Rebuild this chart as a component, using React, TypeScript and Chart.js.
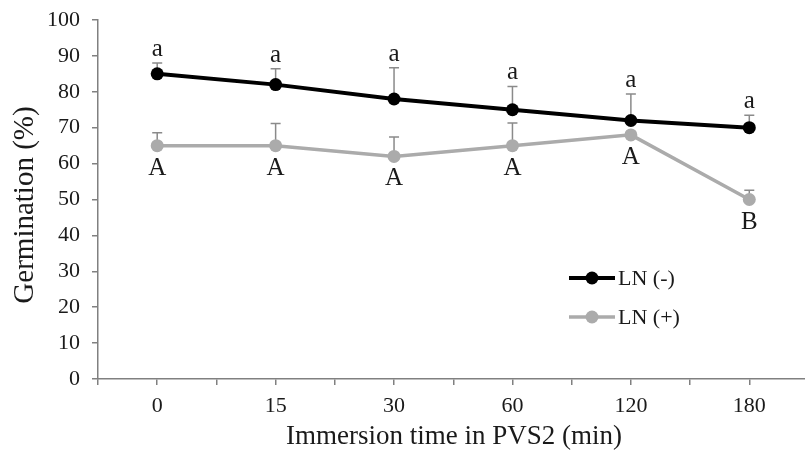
import React, { useEffect, useRef } from "react";
import { Chart, registerables } from "chart.js";

Chart.register(...registerables);

const categories = ["0", "15", "30", "60", "120", "180"];
const lnMinus = [85, 82, 78, 75, 72, 70];
const lnMinusErr = [3, 4.4, 8.7, 6.5, 7.4, 3.5];
const lnMinusLetters = ["a", "a", "a", "a", "a", "a"];
const lnPlus = [65, 65, 62, 65, 68, 50];
const lnPlusErr = [3.6, 6.2, 5.4, 6.3, 0, 2.6];
const lnPlusLetters = ["A", "A", "A", "A", "A", "B"];
const yTicks = [0, 10, 20, 30, 40, 50, 60, 70, 80, 90, 100];

const SERIF = '"Liberation Serif", "Times New Roman", serif';
const BLACK = "#000000";
const GRAY = "#ababab";
const ERR = "#8a8a8a";
const AXIS = "#808080";
const TEXT = "#1a1a1a";

const errorBarPlugin = {
  id: "errorBars",
  beforeDatasetsDraw(chart: any) {
    const { ctx, scales } = chart;
    const xs = scales.x;
    const ys = scales.y;
    const sets = [
      { v: lnMinus, e: lnMinusErr },
      { v: lnPlus, e: lnPlusErr },
    ];
    ctx.save();
    ctx.strokeStyle = ERR;
    ctx.lineWidth = 1.5;
    sets.forEach((s) => {
      s.v.forEach((v, i) => {
        if (!s.e[i]) return;
        const x = xs.getPixelForValue(i);
        const y0 = ys.getPixelForValue(v);
        const y1 = ys.getPixelForValue(v + s.e[i]);
        ctx.beginPath();
        ctx.moveTo(x, y0);
        ctx.lineTo(x, y1);
        ctx.moveTo(x - 5, y1);
        ctx.lineTo(x + 5, y1);
        ctx.stroke();
      });
    });
    ctx.restore();
  },
};

const annotationPlugin = {
  id: "annotations",
  afterDatasetsDraw(chart: any) {
    const { ctx, scales, chartArea } = chart;
    const xs = scales.x;
    const ys = scales.y;
    ctx.save();
    ctx.fillStyle = TEXT;
    ctx.textAlign = "center";
    ctx.font = `25px ${SERIF}`;
    ctx.textBaseline = "alphabetic";
    lnMinus.forEach((v, i) => {
      const x = xs.getPixelForValue(i);
      const y = ys.getPixelForValue(v + lnMinusErr[i]) - 7;
      ctx.fillText(lnMinusLetters[i], x, y);
    });
    ctx.textBaseline = "top";
    lnPlus.forEach((v, i) => {
      const x = xs.getPixelForValue(i);
      const y = ys.getPixelForValue(v) + 10;
      ctx.fillText(lnPlusLetters[i], x, y);
    });

    // legend
    const items = [
      { label: "LN (-)", color: BLACK, w: 4 },
      { label: "LN (+)", color: GRAY, w: 3.5 },
    ];
    ctx.font = `22px ${SERIF}`;
    ctx.textAlign = "left";
    ctx.textBaseline = "middle";
    items.forEach((it, k) => {
      const lx = chartArea.left + 471;
      const ly = chartArea.top + 258 + k * 39;
      ctx.strokeStyle = it.color;
      ctx.lineWidth = it.w;
      ctx.beginPath();
      ctx.moveTo(lx, ly);
      ctx.lineTo(lx + 46, ly);
      ctx.stroke();
      ctx.fillStyle = it.color;
      ctx.beginPath();
      ctx.arc(lx + 23, ly, 6.5, 0, Math.PI * 2);
      ctx.fill();
      ctx.fillStyle = TEXT;
      ctx.fillText(it.label, lx + 49, ly + 1);
    });

    // axis titles
    ctx.textAlign = "center";
    ctx.textBaseline = "middle";
    ctx.font = `27px ${SERIF}`;
    ctx.fillText("Immersion time in PVS2 (min)", 454, 437);
    ctx.save();
    ctx.font = `29px ${SERIF}`;
    ctx.translate(25, 205);
    ctx.rotate(-Math.PI / 2);
    ctx.fillText("Germination (%)", 0, 0);
    ctx.restore();
    ctx.restore();
  },
};

export default function App() {
  const ref = useRef<HTMLCanvasElement | null>(null);
  useEffect(() => {
    if (!ref.current) return;
    const chart = new Chart(ref.current, {
      type: "line",
      data: {
        datasets: [
          {
            label: "LN (-)",
            data: lnMinus.map((v, i) => ({ x: i, y: v })),
            borderColor: BLACK,
            backgroundColor: BLACK,
            borderWidth: 4,
            pointRadius: 6.5,
            pointBorderWidth: 0,
            pointBackgroundColor: BLACK,
          },
          {
            label: "LN (+)",
            data: lnPlus.map((v, i) => ({ x: i, y: v })),
            borderColor: GRAY,
            backgroundColor: GRAY,
            borderWidth: 3.5,
            pointRadius: 6.5,
            pointBorderWidth: 0,
            pointBackgroundColor: GRAY,
          },
        ],
      },
      options: {
        responsive: false,
        animation: false,
        devicePixelRatio: 1,
        layout: { padding: { top: 20, right: 5, left: 0, bottom: 0 } },
        plugins: { legend: { display: false }, tooltip: { enabled: false } },
        scales: {
          x: {
            type: "linear",
            min: -0.5,
            max: 5.5,
            afterFit: (s: any) => {
              s.height = 77;
              s.paddingLeft = 0;
              s.paddingRight = 0;
            },
            afterBuildTicks: (s: any) => {
              const t = [];
              for (let v = -0.5; v <= 5.5001; v += 0.5) t.push({ value: v });
              s.ticks = t;
            },
            ticks: {
              autoSkip: false,
              maxRotation: 0,
              padding: 8,
              color: TEXT,
              font: { family: SERIF, size: 22 },
              callback: (v: any) => {
                const n = Number(v);
                return Number.isInteger(n) && n >= 0 && n < categories.length
                  ? categories[n]
                  : "";
              },
            },
            grid: {
              display: true,
              drawOnChartArea: false,
              tickLength: 6,
              color: AXIS,
              lineWidth: 1.5,
            },
            border: { color: AXIS, width: 1.5 },
          },
          y: {
            min: 0,
            max: 100,
            afterFit: (s: any) => {
              s.width = 98;
              s.paddingTop = 0;
              s.paddingBottom = 0;
            },
            afterBuildTicks: (s: any) => {
              s.ticks = yTicks.map((v) => ({ value: v }));
            },
            ticks: {
              padding: 12,
              color: TEXT,
              font: { family: SERIF, size: 22 },
            },
            grid: {
              display: true,
              drawOnChartArea: false,
              tickLength: 6,
              color: AXIS,
              lineWidth: 1.5,
            },
            border: { color: AXIS, width: 1.5 },
          },
        },
      },
      plugins: [errorBarPlugin, annotationPlugin],
    } as any);
    return () => chart.destroy();
  }, []);

  return (
    <div
      style={{
        position: "fixed",
        left: 0,
        top: 0,
        width: 805,
        height: 456,
        overflow: "hidden",
        background: "#ffffff",
      }}
    >
      <canvas ref={ref} width={815} height={456} style={{ display: "block" }} />
    </div>
  );
}
